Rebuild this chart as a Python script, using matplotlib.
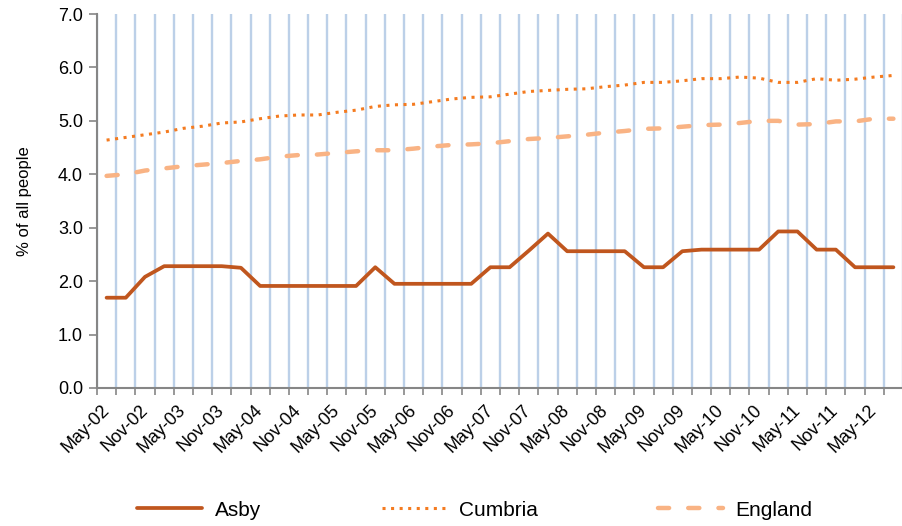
import matplotlib
matplotlib.use("Agg")
import matplotlib.pyplot as plt
import numpy as np

plt.rcParams['font.family'] = ['Liberation Sans', 'DejaVu Sans']

# Quarterly periods May-02 .. Aug-12
months = ["May", "Aug", "Nov", "Feb"]
periods = []
y, m = 2002, 0
for i in range(42):
    mon = months[m]
    periods.append(f"{mon}-{y % 100:02d}")
    m = (m + 1) % 4
    if mon == "Nov":
        y += 1

asby = [1.69, 1.69, 2.08, 2.28, 2.28, 2.28, 2.28, 2.25, 1.91, 1.91,
        1.91, 1.91, 1.91, 1.91, 2.26, 1.95, 1.95, 1.95, 1.95, 1.95,
        2.26, 2.26, 2.57, 2.89, 2.56, 2.56, 2.56, 2.56, 2.26, 2.26,
        2.56, 2.59, 2.59, 2.59, 2.59, 2.93, 2.93, 2.59, 2.59, 2.26,
        2.26, 2.26]
cumbria = [4.64, 4.69, 4.74, 4.79, 4.86, 4.90, 4.96, 4.98, 5.04, 5.09,
           5.11, 5.11, 5.16, 5.20, 5.27, 5.30, 5.31, 5.36, 5.41, 5.44,
           5.45, 5.50, 5.55, 5.57, 5.59, 5.60, 5.64, 5.67, 5.72, 5.72,
           5.75, 5.79, 5.79, 5.82, 5.80, 5.72, 5.72, 5.79, 5.76, 5.78,
           5.82, 5.85]
england = [3.97, 4.00, 4.07, 4.11, 4.15, 4.18, 4.21, 4.25, 4.28, 4.33,
           4.36, 4.37, 4.40, 4.43, 4.45, 4.45, 4.48, 4.52, 4.55, 4.56,
           4.58, 4.62, 4.66, 4.68, 4.71, 4.74, 4.78, 4.81, 4.85, 4.86,
           4.89, 4.92, 4.93, 4.96, 5.00, 5.00, 4.93, 4.94, 4.99, 4.99,
           5.04, 5.04]
y_ticks = [0.0, 1.0, 2.0, 3.0, 4.0, 5.0, 6.0, 7.0]

W, H = 903, 526
fig = plt.figure(figsize=(W / 100, H / 100), dpi=100)
ax = fig.add_axes([97 / W, 1 - 388 / H, (903 - 97) / W, (388 - 14) / H])

x = np.arange(len(periods))
l1, = ax.plot(x, asby, color="#C0561E", lw=2.7, solid_capstyle="round",
              solid_joinstyle="round", label="Asby", zorder=3)
l2, = ax.plot(x, cumbria, color="#F47B20", lw=2.2, linestyle=(0, (1, 1.8)),
              label="Cumbria", zorder=3)
l3, = ax.plot(x, england, color="#F9B384", lw=3.2, linestyle=(0, (2.5, 4.3)),
              dash_capstyle="round", label="England", zorder=3)

ax.set_xlim(-0.5, len(periods) - 0.5)
ax.set_ylim(0, 7)
ax.set_yticks(y_ticks)
ax.set_yticklabels([f"{v:.1f}" for v in y_ticks], fontsize=13)

ax.set_xticks(x[::2])
ax.set_xticklabels(periods[::2], rotation=45, ha="right", va="center",
                   rotation_mode="anchor", fontsize=13)
ax.tick_params(axis="x", which="major", length=0, pad=14)
ax.set_xticks(np.arange(-0.5, len(periods), 1), minor=True)
ax.tick_params(axis="x", which="minor", length=5, width=1.2, color="#868686",
               direction="out")
ax.grid(axis="x", which="minor", color="#BCD0E8", lw=1.7, zorder=0)
ax.tick_params(axis="y", length=6, width=1.2, color="#868686", pad=4)

for s in ["top", "right"]:
    ax.spines[s].set_visible(False)
for s in ["left", "bottom"]:
    ax.spines[s].set_color("#868686")
    ax.spines[s].set_linewidth(1.5)

ax.set_ylabel("% of all people", fontsize=12)
ax.yaxis.set_label_coords(-65 / (903 - 97), 0.5)

fig.legend(handles=[l1, l2, l3], loc="center", ncol=3,
           bbox_to_anchor=(475 / W, 1 - 510 / H), frameon=False,
           fontsize=15, handlelength=3.1, handletextpad=0.6,
           columnspacing=5.8)

fig.savefig("out.png", dpi=100)
